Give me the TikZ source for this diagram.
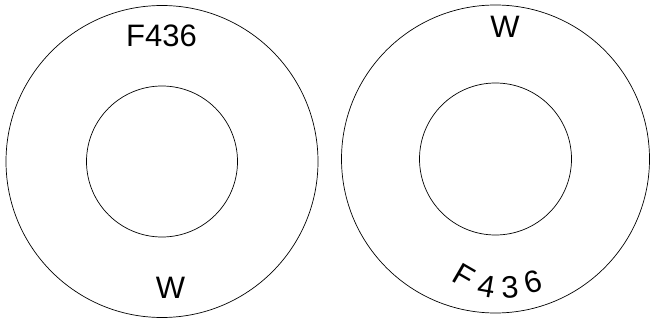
\documentclass[tikz,border=0pt]{standalone}
\usepackage{fontspec}
\setmainfont{Liberation Sans}

\begin{document}
\begin{tikzpicture}[x=1pt, y=-1pt, line width=0.7pt,
	lbl/.style={font=\fontsize{31}{31}\selectfont, inner sep=0pt}]
	\useasboundingbox (0, 0) rectangle (650, 320);
	\coordinate (lc) at (162, 161.5);
	\coordinate (rc) at (495.5, 159);
	% left ring
	\draw (lc) circle [radius=156];
	\draw (lc) circle [radius=75.5];
	\node [lbl, anchor=base] (ltop) at (161.5, 47) {F436};
	\node [lbl, anchor=base] (lbot) at (170.5, 298) {W};
	% right ring
	\draw (rc) circle [radius=154];
	\draw (rc) circle [radius=76];
	\node [lbl, anchor=base] (rtop) at (505, 38) {W};
	\node [lbl, rotate=-30] (rf) at (464, 276) {F};
	\node [lbl, rotate=-10] (r4) at (486.5, 286) {4};
	\node [lbl, rotate=3] (r3) at (510, 287) {3};
	\node [lbl, rotate=15] (r6) at (533, 281.5) {6};
\end{tikzpicture}
\end{document}
